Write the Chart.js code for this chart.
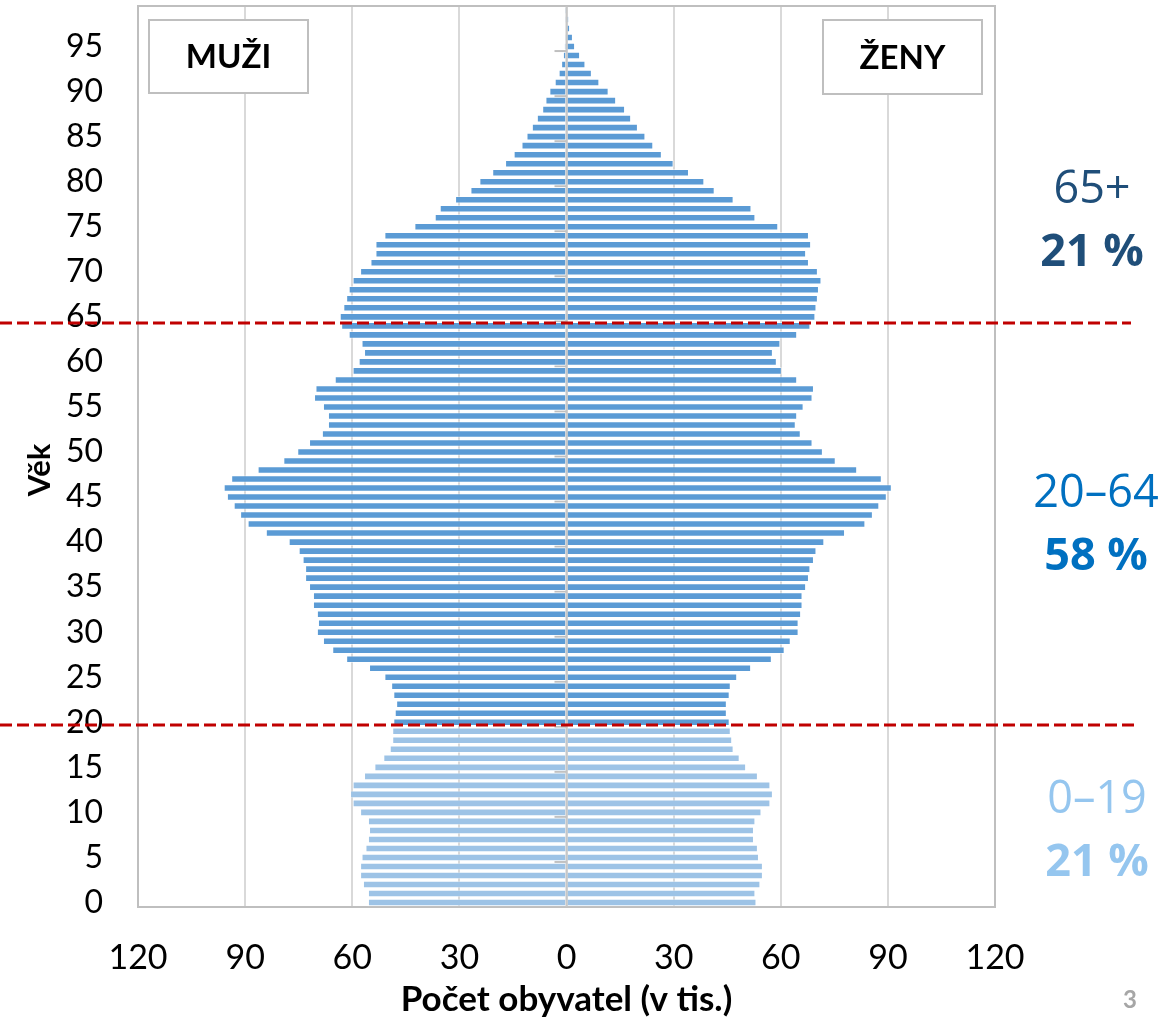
<!DOCTYPE html>
<html>
<head>
<meta charset="utf-8">
<script src="https://cdn.jsdelivr.net/npm/chart.js@4.4.1/dist/chart.umd.min.js"></script>
<style>
  html, body { margin: 0; padding: 0; background: #ffffff; }
  #wrap { position: relative; width: 1176px; height: 1022px; }
</style>
</head>
<body>
<div id="wrap"><canvas id="pyramid" width="1176" height="1022"></canvas></div>
<script>
// Age categories (single years)
const ages = [
   0,  1,  2,  3,  4,  5,  6,  7,  8,  9, 10, 11, 12, 13, 14, 15, 16, 17, 18, 19,
  20, 21, 22, 23, 24, 25, 26, 27, 28, 29, 30, 31, 32, 33, 34, 35, 36, 37, 38, 39,
  40, 41, 42, 43, 44, 45, 46, 47, 48, 49, 50, 51, 52, 53, 54, 55, 56, 57, 58, 59,
  60, 61, 62, 63, 64, 65, 66, 67, 68, 69, 70, 71, 72, 73, 74, 75, 76, 77, 78, 79,
  80, 81, 82, 83, 84, 85, 86, 87, 88, 89, 90, 91, 92, 93, 94, 95, 96, 97, 98, 99
];

// Men, thousands of persons, by age 0..99
const men = [
  55.6, 55.6, 57.0, 57.8, 57.8, 57.4, 56.3, 55.6, 55.3, 55.6,
  57.8, 59.9, 60.6, 59.9, 56.7, 53.8, 51.3, 49.5, 48.8, 48.8,
  48.5, 48.1, 47.7, 48.5, 49.1, 51.0, 55.3, 61.7, 65.6, 68.2,
  69.9, 69.6, 69.9, 71.0, 71.0, 72.1, 73.2, 73.2, 73.9, 75.0,
  77.8, 84.2, 89.3, 91.4, 93.2, 95.1, 96.0, 93.9, 86.5, 79.3,
  75.4, 72.1, 68.5, 66.8, 66.8, 68.2, 70.7, 70.3, 64.9, 59.9,
  58.2, 56.7, 57.4, 61.0, 63.1, 63.5, 62.5, 61.7, 61.0, 59.9,
  57.8, 54.9, 53.5, 53.5, 51.0, 42.6, 36.9, 35.5, 31.2, 26.9,
  24.4, 20.8, 17.2, 14.8, 12.6, 11.2,  9.7,  8.3,  6.8,  5.9,
   4.8,  3.3,  2.2,  1.5,  1.0,  0.6,  0.4,  0.25, 0.15, 0.1
];

// Women, thousands of persons, by age 0..99
const women = [
  53.2, 52.9, 54.3, 55.0, 55.0, 53.9, 53.6, 52.5, 52.5, 52.9,
  54.6, 57.1, 57.8, 57.1, 53.6, 50.3, 48.5, 46.8, 46.4, 46.0,
  45.7, 44.9, 44.9, 45.7, 46.0, 47.8, 51.7, 57.5, 61.1, 62.8,
  65.0, 65.0, 65.7, 66.1, 66.1, 67.1, 67.9, 68.3, 69.3, 70.0,
  72.2, 78.0, 83.7, 85.8, 87.6, 89.7, 91.1, 88.3, 81.4, 75.4,
  71.8, 68.9, 65.6, 64.2, 64.6, 66.4, 68.9, 69.3, 64.6, 60.3,
  58.9, 57.8, 59.9, 64.6, 68.3, 69.7, 70.0, 70.4, 70.7, 71.4,
  70.4, 67.9, 67.1, 68.5, 67.9, 59.3, 52.9, 51.8, 46.8, 41.5,
  38.6, 34.3, 30.0, 26.7, 24.3, 22.1, 20.0, 18.1, 16.4, 13.9,
  11.8,  9.2,  7.1,  5.3,  3.8,  2.4,  1.8,  1.0,  0.65, 0.3
];

// Axis settings
const xLimit = 120;
const xStep = 30;
const ageLabelEvery = 5;

// Age groups shown at the right
const groupNames  = ['65+', '20–64', '0–19'];
const groupShares = ['21 %', '58 %', '21 %'];
const groupColors = ['#1F4E79', '#0070C0', '#95C6EF'];
const groupBreaks = [65, 20];          // first age of the upper groups
const childUpTo = 19;                  // last age drawn in the light colour

const sexLabels = ['MUŽI', 'ŽENY'];

const BAR_MAIN = '#5B9BD5';
const BAR_YOUNG = '#9DC3E6';
const barColor = (ctx) => (ages[ctx.dataIndex] <= childUpTo ? BAR_YOUNG : BAR_MAIN);

function drawBox(ctx, x, y, w, h, text) {
  ctx.fillStyle = '#ffffff';
  ctx.fillRect(x, y, w, h);
  ctx.strokeStyle = '#BFBFBF';
  ctx.lineWidth = 2;
  ctx.strokeRect(x, y, w, h);
  ctx.fillStyle = '#000000';
  ctx.font = 'bold 33px Lato';
  ctx.textAlign = 'center';
  ctx.textBaseline = 'middle';
  ctx.fillText(text, x + w / 2, y + h / 2 + 1);
}

const decor = {
  id: 'pyramidDecor',
  beforeDatasetsDraw(chart) {
    const { ctx, chartArea: a, scales: { x, y } } = chart;
    ctx.save();
    // plot frame
    ctx.strokeStyle = '#BFBFBF';
    ctx.lineWidth = 2;
    ctx.strokeRect(a.left, a.top, a.right - a.left, a.bottom - a.top);
    // small tick marks on the central axis, one every five ages
    const x0 = x.getPixelForValue(0);
    const half = (y.getPixelForValue(0) - y.getPixelForValue(1)) / 2;
    ctx.strokeStyle = '#BFBFBF';
    ctx.lineWidth = 2;
    for (let i = 0; i <= ages.length; i += ageLabelEvery) {
      const py = y.getPixelForValue(i) + half;
      ctx.beginPath();
      ctx.moveTo(x0 - 12, py);
      ctx.lineTo(x0, py);
      ctx.stroke();
    }
    // sex captions
    drawBox(ctx, a.left + 11, a.top + 14, 159, 73, sexLabels[0]);
    drawBox(ctx, a.right - 172, a.top + 14, 159, 74, sexLabels[1]);
    ctx.restore();
  },
  afterDatasetsDraw(chart) {
    const { ctx, chartArea: a, scales: { x, y } } = chart;
    ctx.save();
    // central vertical axis over the bars
    const x0 = x.getPixelForValue(0);
    ctx.strokeStyle = 'rgba(196,196,196,0.9)';
    ctx.lineWidth = 2;
    ctx.beginPath();
    ctx.moveTo(x0, a.top);
    ctx.lineTo(x0, a.bottom);
    ctx.stroke();

    // dashed separators between age groups
    const half = (y.getPixelForValue(0) - y.getPixelForValue(1)) / 2;
    ctx.strokeStyle = '#C00000';
    ctx.lineWidth = 3;
    ctx.setLineDash([12, 5]);
    const ends = [1131, 1137];
    groupBreaks.forEach((age, k) => {
      const py = Math.round(y.getPixelForValue(age) + half) + (k === 0 ? 2 : -2);
      ctx.beginPath();
      ctx.moveTo(0, py);
      ctx.lineTo(ends[k], py);
      ctx.stroke();
    });
    ctx.setLineDash([]);
    ctx.restore();
  },
  afterDraw(chart) {
    const { ctx } = chart;
    ctx.save();
    // group names and shares
    const gx = [1092, 1096, 1097];
    const gy = [190, 494, 800];
    ctx.textAlign = 'center';
    ctx.textBaseline = 'middle';
    groupNames.forEach((name, k) => {
      ctx.fillStyle = groupColors[k];
      ctx.font = '45px "Open Sans"';
      ctx.fillText(name, gx[k], gy[k]);
      ctx.font = 'bold 45px "Open Sans"';
      ctx.fillText(groupShares[k], gx[k], gy[k] + 63);
    });
    // vertical axis title
    ctx.fillStyle = '#000000';
    ctx.font = 'bold 31px Lato';
    ctx.translate(40, 470);
    ctx.rotate(-Math.PI / 2);
    ctx.fillText('Věk', 0, 0);
    ctx.restore();
    // page number
    ctx.save();
    ctx.fillStyle = '#A6A6A6';
    ctx.font = 'bold 24px Lato';
    ctx.textAlign = 'center';
    ctx.textBaseline = 'middle';
    ctx.fillText('3', 1130, 1000);
    ctx.restore();
  }
};

Chart.defaults.font.family = 'Lato';
Chart.defaults.color = '#000000';

new Chart(document.getElementById('pyramid'), {
  type: 'bar',
  data: {
    labels: ages,
    datasets: [
      {
        label: sexLabels[0],
        data: men.map(v => -v),
        backgroundColor: barColor,
        borderColor: 'rgba(255,255,255,0.5)',
        borderWidth: 1,
        barPercentage: 0.84,
        categoryPercentage: 1.0
      },
      {
        label: sexLabels[1],
        data: women,
        backgroundColor: barColor,
        borderColor: 'rgba(255,255,255,0.5)',
        borderWidth: 1,
        barPercentage: 0.84,
        categoryPercentage: 1.0
      }
    ]
  },
  options: {
    indexAxis: 'y',
    responsive: false,
    animation: false,
    events: [],
    layout: { padding: { left: 0, right: 181, top: 6, bottom: 0 } },
    plugins: { legend: { display: false }, tooltip: { enabled: false } },
    scales: {
      x: {
        stacked: true,
        min: -xLimit,
        max: xLimit,
        afterFit(scale) {
          scale.height = 115;
          scale.paddingLeft = 0;
          scale.paddingRight = 0;
        },
        border: { display: false },
        grid: { color: '#D9D9D9', lineWidth: 2, drawTicks: false },
        ticks: {
          stepSize: xStep,
          padding: 31,
          font: { size: 34, lineHeight: 1.2 },
          color: '#000000',
          callback: (v) => Math.abs(v)
        },
        title: {
          display: true,
          text: 'Počet obyvatel (v tis.)',
          font: { size: 35, weight: 'bold', lineHeight: 1.2 },
          color: '#000000',
          padding: { top: 0, bottom: 1 }
        }
      },
      y: {
        stacked: true,
        reverse: true,
        afterFit(scale) {
          scale.width = 138;
          scale.paddingTop = 0;
          scale.paddingBottom = 0;
        },
        border: { display: false },
        grid: { display: false, drawTicks: false },
        ticks: {
          autoSkip: false,
          padding: 35,
          font: { size: 32, lineHeight: 1.2 },
          color: '#000000',
          callback: function (val, i) { return ages[i] % ageLabelEvery === 0 ? String(ages[i]) : ''; }
        }
      }
    }
  },
  plugins: [decor]
});
</script>
</body>
</html>
